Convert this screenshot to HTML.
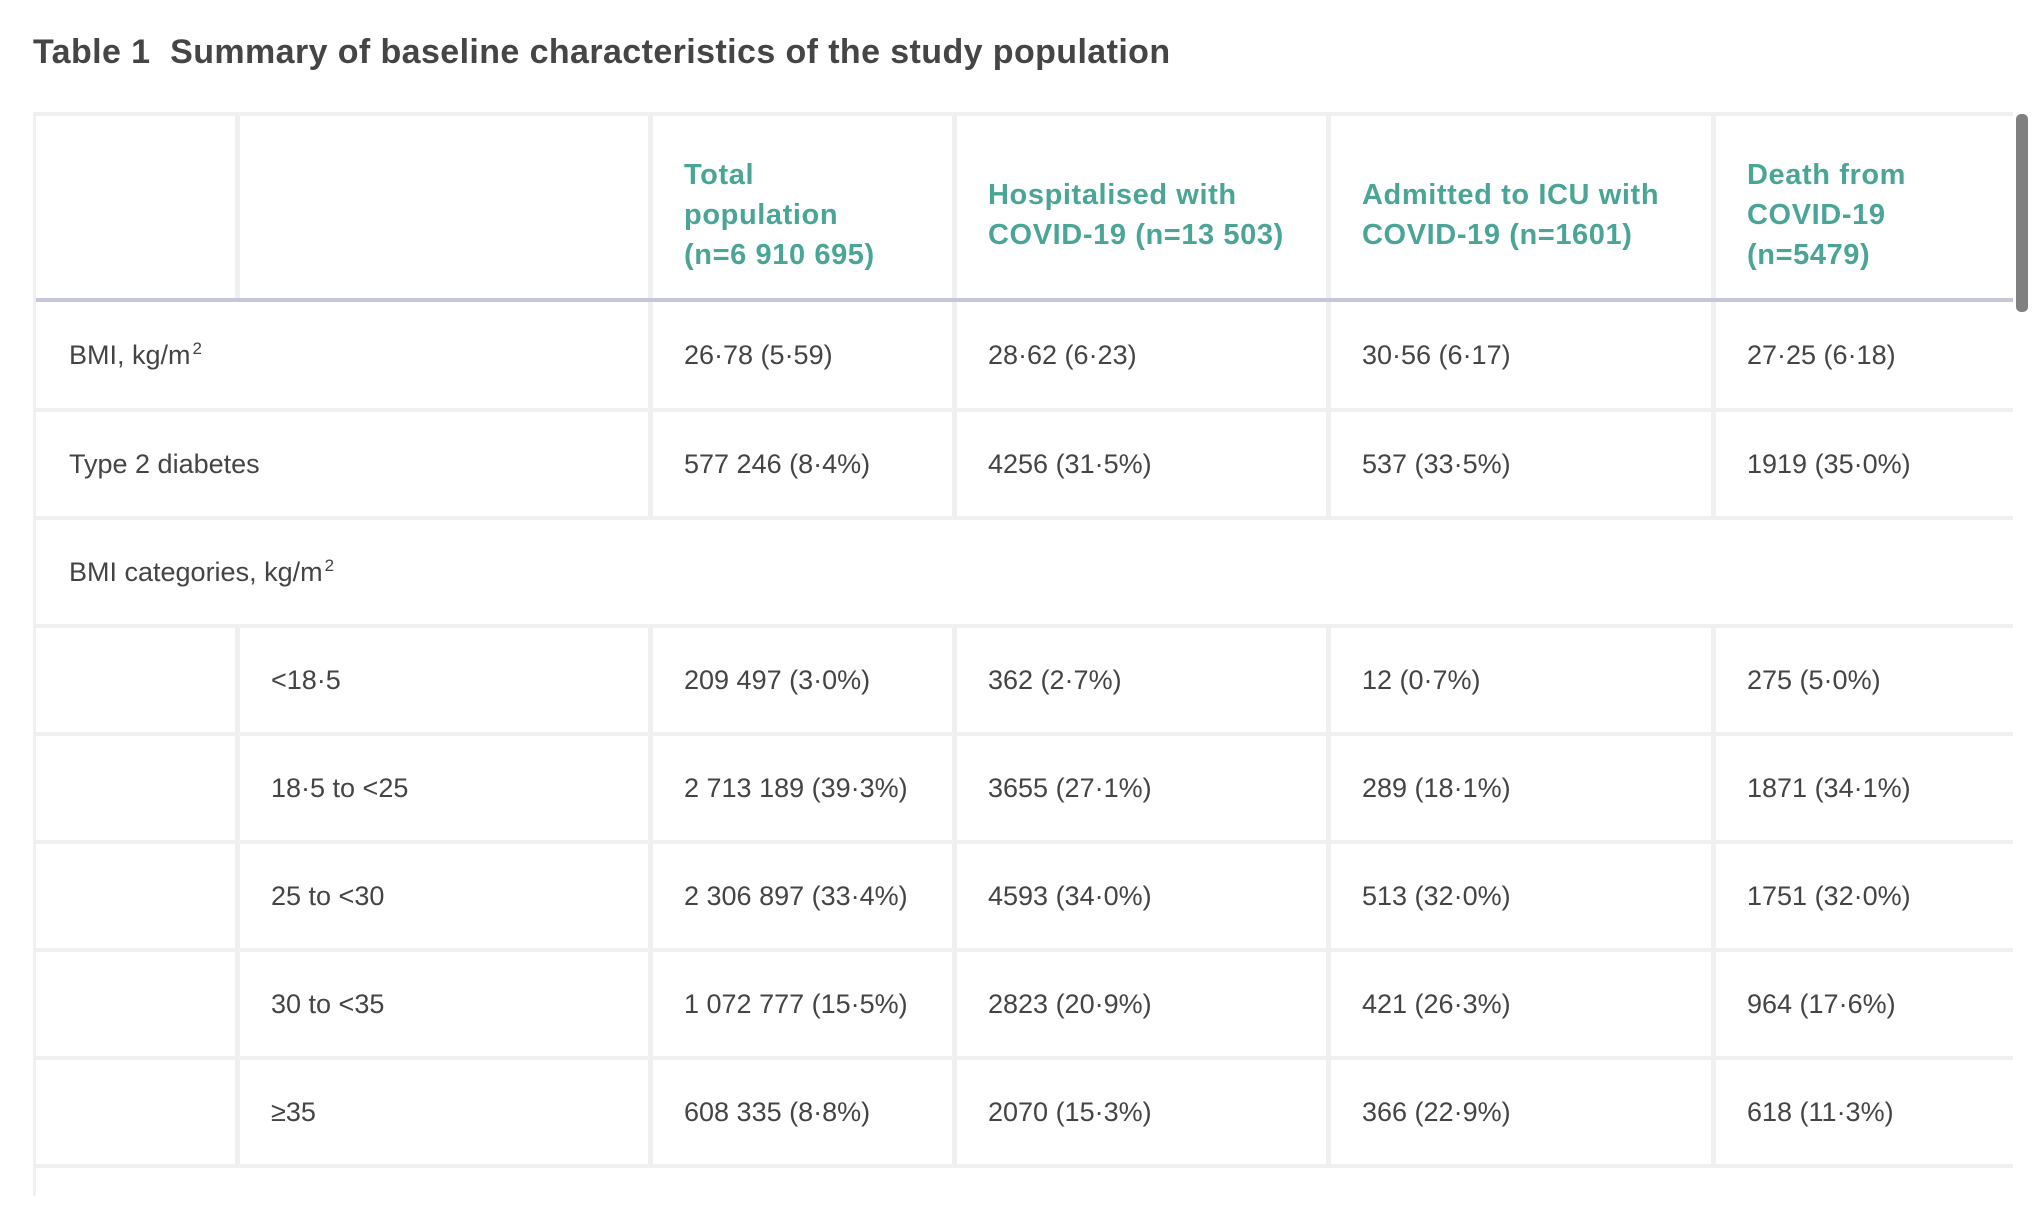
<!DOCTYPE html>
<html><head><meta charset="utf-8"><style>
html,body{margin:0;padding:0;background:#fff;}
body{width:2042px;height:1196px;position:relative;overflow:hidden;font-family:"Liberation Sans",sans-serif;}
.t{position:absolute;left:33px;top:33px;font-size:34px;font-weight:bold;color:#454545;white-space:nowrap;letter-spacing:0.4px}
.bg{position:absolute;left:33px;top:112px;width:1980px;height:1084px;background:#f0f0f0;}
.c{position:absolute;background:#fff;display:flex;align-items:center;box-sizing:border-box;padding-left:31px;font-size:27px;color:#444;white-space:nowrap}
.h{color:#4aa596;font-weight:bold;font-size:29px;letter-spacing:0.6px;line-height:40px;white-space:normal;padding-top:16px}
.lil{position:absolute;left:36px;top:298px;width:1977px;height:4px;background:#c6c6db}
.sb{position:absolute;left:2016px;top:114px;width:12px;height:198px;background:#808080;border-radius:5px}
sup{font-size:17px;position:relative;top:-6px;vertical-align:top;margin-left:2px}
</style></head><body>
<div class="t">Table 1&nbsp; Summary of baseline characteristics of the study population</div>
<div class="bg"></div>
<div class="c" style="left:36px;top:116px;width:199px;height:182px"></div>
<div class="c" style="left:240px;top:116px;width:408px;height:182px"></div>
<div class="c h" style="left:653px;top:116px;width:299px;height:182px"><div>Total<br>population<br>(n=6 910 695)</div></div>
<div class="c h" style="left:957px;top:116px;width:369px;height:182px"><div>Hospitalised with<br>COVID-19 (n=13 503)</div></div>
<div class="c h" style="left:1331px;top:116px;width:380px;height:182px"><div>Admitted to ICU with<br>COVID-19 (n=1601)</div></div>
<div class="c h" style="left:1716px;top:116px;width:297px;height:182px"><div>Death from<br>COVID-19<br>(n=5479)</div></div>
<div class="lil"></div>
<div class="sb"></div>

<div class="c" style="left:36px;top:302px;width:612px;height:106px;padding-left:33px">BMI, kg/m<sup>2</sup></div>
<div class="c" style="left:653px;top:302px;width:299px;height:106px">26·78 (5·59)</div>
<div class="c" style="left:957px;top:302px;width:369px;height:106px">28·62 (6·23)</div>
<div class="c" style="left:1331px;top:302px;width:380px;height:106px">30·56 (6·17)</div>
<div class="c" style="left:1716px;top:302px;width:297px;height:106px">27·25 (6·18)</div>

<div class="c" style="left:36px;top:412px;width:612px;height:104px;padding-left:33px">Type 2 diabetes</div>
<div class="c" style="left:653px;top:412px;width:299px;height:104px">577 246 (8·4%)</div>
<div class="c" style="left:957px;top:412px;width:369px;height:104px">4256 (31·5%)</div>
<div class="c" style="left:1331px;top:412px;width:380px;height:104px">537 (33·5%)</div>
<div class="c" style="left:1716px;top:412px;width:297px;height:104px">1919 (35·0%)</div>

<div class="c" style="left:36px;top:520px;width:1977px;height:104px;padding-left:33px">BMI categories, kg/m<sup>2</sup></div>

<div class="c" style="left:36px;top:628px;width:199px;height:104px"></div>
<div class="c" style="left:240px;top:628px;width:408px;height:104px">&lt;18·5</div>
<div class="c" style="left:653px;top:628px;width:299px;height:104px">209 497 (3·0%)</div>
<div class="c" style="left:957px;top:628px;width:369px;height:104px">362 (2·7%)</div>
<div class="c" style="left:1331px;top:628px;width:380px;height:104px">12 (0·7%)</div>
<div class="c" style="left:1716px;top:628px;width:297px;height:104px">275 (5·0%)</div>

<div class="c" style="left:36px;top:736px;width:199px;height:104px"></div>
<div class="c" style="left:240px;top:736px;width:408px;height:104px">18·5 to &lt;25</div>
<div class="c" style="left:653px;top:736px;width:299px;height:104px">2 713 189 (39·3%)</div>
<div class="c" style="left:957px;top:736px;width:369px;height:104px">3655 (27·1%)</div>
<div class="c" style="left:1331px;top:736px;width:380px;height:104px">289 (18·1%)</div>
<div class="c" style="left:1716px;top:736px;width:297px;height:104px">1871 (34·1%)</div>

<div class="c" style="left:36px;top:844px;width:199px;height:104px"></div>
<div class="c" style="left:240px;top:844px;width:408px;height:104px">25 to &lt;30</div>
<div class="c" style="left:653px;top:844px;width:299px;height:104px">2 306 897 (33·4%)</div>
<div class="c" style="left:957px;top:844px;width:369px;height:104px">4593 (34·0%)</div>
<div class="c" style="left:1331px;top:844px;width:380px;height:104px">513 (32·0%)</div>
<div class="c" style="left:1716px;top:844px;width:297px;height:104px">1751 (32·0%)</div>

<div class="c" style="left:36px;top:952px;width:199px;height:104px"></div>
<div class="c" style="left:240px;top:952px;width:408px;height:104px">30 to &lt;35</div>
<div class="c" style="left:653px;top:952px;width:299px;height:104px">1 072 777 (15·5%)</div>
<div class="c" style="left:957px;top:952px;width:369px;height:104px">2823 (20·9%)</div>
<div class="c" style="left:1331px;top:952px;width:380px;height:104px">421 (26·3%)</div>
<div class="c" style="left:1716px;top:952px;width:297px;height:104px">964 (17·6%)</div>

<div class="c" style="left:36px;top:1060px;width:199px;height:104px"></div>
<div class="c" style="left:240px;top:1060px;width:408px;height:104px">≥35</div>
<div class="c" style="left:653px;top:1060px;width:299px;height:104px">608 335 (8·8%)</div>
<div class="c" style="left:957px;top:1060px;width:369px;height:104px">2070 (15·3%)</div>
<div class="c" style="left:1331px;top:1060px;width:380px;height:104px">366 (22·9%)</div>
<div class="c" style="left:1716px;top:1060px;width:297px;height:104px">618 (11·3%)</div>

<div class="c" style="left:36px;top:1168px;width:1977px;height:40px"></div>
</body></html>
